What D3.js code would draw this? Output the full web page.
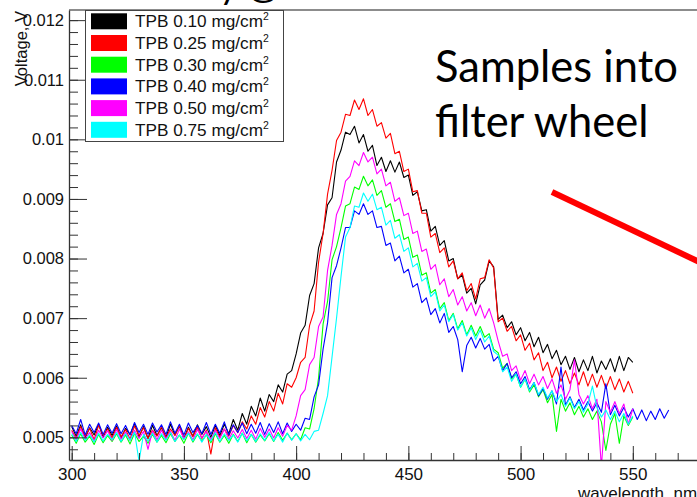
<!DOCTYPE html>
<html>
<head>
<meta charset="utf-8">
<script src="https://cdn.jsdelivr.net/npm/d3@7"></script>
<style>
  body { margin: 0; background: #fff; overflow: hidden; }
  svg { display: block; font-family: "Liberation Sans", Arial, sans-serif; }
</style>
</head>
<body>
<div id="plotviz"></div>
<script>
// readings in mV, one every 2 nm starting at 300 nm
const tpb010 = [
  5.18, 5.02, 5.21, 4.99, 5.16, 5.04, 5.22, 5.00, 5.17, 5.03,
  5.19, 4.99, 5.15, 5.05, 5.23, 5.01, 5.18, 4.98, 5.20, 5.03,
  5.16, 5.00, 5.22, 5.04, 5.19, 4.98, 5.17, 5.02, 5.21, 5.05,
  5.18, 5.00, 5.20, 5.03, 5.22, 5.06, 5.30, 5.12, 5.40, 5.22,
  5.52, 5.36, 5.66, 5.44, 5.72, 5.60, 5.88, 5.76, 6.06, 6.12,
  6.40, 6.75, 6.88, 7.38, 7.58, 8.18, 8.42, 8.90, 9.02, 9.62,
  9.82, 10.12, 10.08, 10.22, 9.94, 10.08, 9.80, 9.90, 9.56, 9.70,
  9.46, 9.64, 9.45, 9.62, 9.36, 9.40, 9.06, 9.12, 8.80, 8.82,
  8.46, 8.54, 8.22, 8.30, 7.96, 8.00, 7.66, 7.72, 7.42, 7.50,
  7.24, 7.56, 7.64, 7.96, 7.86, 6.98, 7.05, 6.84, 6.94, 6.72,
  6.84, 6.62, 6.76, 6.52, 6.68, 6.42, 6.56, 6.32, 6.46, 6.22,
  6.36, 6.14, 6.34, 6.10, 6.30, 6.12, 6.36, 6.08, 6.28, 6.14,
  6.32, 6.10, 6.36, 6.12, 6.34, 6.26
];
const tpb025 = [
  5.12, 4.98, 5.18, 5.02, 5.15, 4.96, 5.20, 5.04, 5.14, 4.99,
  5.17, 5.01, 5.13, 4.97, 5.19, 5.03, 5.16, 4.98, 5.12, 5.02,
  5.18, 4.99, 5.14, 5.03, 5.20, 4.97, 5.15, 5.01, 5.17, 4.98,
  5.12, 4.72, 5.16, 5.00, 5.14, 5.02, 5.20, 5.08, 5.26, 5.14,
  5.36, 5.22, 5.50, 5.34, 5.60, 5.44, 5.74, 5.56, 5.90, 5.84,
  6.00, 6.26, 6.34, 6.88, 7.12, 7.94, 8.42, 9.08, 9.48, 9.98,
  10.12, 10.42, 10.40, 10.66, 10.50, 10.68, 10.40, 10.50, 10.22, 10.28,
  10.02, 10.10, 9.76, 9.80, 9.46, 9.50, 9.12, 9.14, 8.76, 8.76,
  8.36, 8.42, 8.10, 8.18, 7.86, 7.96, 7.66, 7.76, 7.46, 7.58,
  7.32, 7.66, 7.68, 7.98, 7.84, 6.94, 7.00, 6.78, 6.86, 6.62,
  6.72, 6.46, 6.58, 6.30, 6.42, 6.12, 6.26, 6.00, 6.18, 5.94,
  6.12, 5.90, 6.08, 5.88, 6.10, 5.86, 6.06, 5.84, 6.04, 5.82,
  6.02, 5.80, 5.98, 5.76, 5.94, 5.74
];
const tpb030 = [
  5.04, 4.90, 5.06, 4.92, 5.02, 4.88, 5.05, 4.91, 5.03, 4.93,
  5.06, 4.92, 5.04, 4.89, 5.07, 4.93, 5.02, 4.90, 5.05, 4.92,
  5.03, 4.91, 5.06, 4.93, 5.04, 4.90, 5.07, 4.92, 5.05, 4.94,
  5.04, 4.91, 5.06, 4.92, 5.03, 4.90, 5.05, 4.93, 5.07, 4.91,
  5.05, 4.92, 5.04, 4.94, 5.06, 4.93, 5.08, 4.95, 5.07, 4.96,
  5.06, 4.96, 5.16, 5.14, 5.48, 6.00, 6.90, 7.28, 7.98, 8.20,
  8.52, 8.88, 8.92, 9.20, 9.16, 9.38, 9.22, 9.32, 9.06, 9.14,
  8.86, 8.92, 8.62, 8.66, 8.32, 8.36, 8.02, 8.06, 7.72, 7.76,
  7.42, 7.48, 7.16, 7.26, 6.96, 7.08, 6.82, 6.96, 6.72, 6.88,
  6.70, 6.86, 6.68, 6.74, 6.48, 6.42, 6.16, 6.24, 5.98, 6.06,
  5.84, 5.98, 5.76, 5.88, 5.68, 5.80, 5.58, 5.72, 5.10, 5.64,
  5.44, 5.58, 5.38, 5.52, 5.34, 5.48, 5.30, 5.44, 5.26, 4.78,
  5.22, 5.40, 4.90, 5.36, 5.20, 5.34
];
const tpb040 = [
  5.20, 5.06, 5.30, 5.04, 5.22, 5.08, 5.24, 5.05, 5.21, 5.07,
  5.23, 5.06, 5.20, 5.04, 5.25, 5.08, 5.22, 5.05, 5.24, 5.09,
  5.21, 5.05, 5.26, 5.07, 5.22, 5.04, 5.24, 5.08, 5.20, 5.06,
  5.25, 5.05, 5.22, 5.07, 5.26, 5.04, 5.21, 5.08, 5.24, 5.06,
  5.22, 5.07, 5.25, 5.05, 5.23, 5.08, 5.26, 5.06, 5.24, 5.10,
  5.22, 5.12, 5.32, 5.30, 5.68, 5.88, 6.48, 6.92, 7.68, 7.88,
  8.18, 8.52, 8.52, 8.80, 8.74, 8.92, 8.74, 8.80, 8.52, 8.54,
  8.22, 8.26, 7.96, 8.04, 7.76, 7.82, 7.52, 7.58, 7.26, 7.34,
  7.06, 7.16, 6.92, 7.08, 6.76, 6.86, 6.64, 6.10, 6.54, 6.68,
  6.50, 6.66, 6.48, 6.56, 6.28, 6.36, 6.12, 6.24, 6.00, 6.10,
  5.90, 6.02, 5.80, 5.92, 5.70, 5.82, 5.64, 5.78, 5.56, 6.18,
  5.54, 5.68, 5.50, 5.64, 5.46, 5.60, 5.44, 5.58, 5.42, 5.90,
  5.38, 5.54, 5.36, 5.50, 5.34, 5.48, 5.30, 5.46, 5.28, 5.44,
  5.30, 5.48, 5.32, 5.46
];
const tpb050 = [
  5.10, 4.96, 5.14, 4.98, 5.08, 4.94, 5.12, 4.99, 5.11, 4.95,
  5.13, 4.97, 5.09, 4.95, 5.12, 4.98, 5.10, 4.80, 5.11, 4.96,
  5.12, 4.97, 5.10, 4.95, 5.14, 4.98, 5.09, 4.96, 5.13, 4.99,
  5.10, 4.96, 5.12, 4.98, 5.14, 4.97, 5.11, 4.99, 5.13, 4.98,
  5.12, 4.97, 5.15, 5.00, 5.14, 4.99, 5.16, 5.02, 5.20, 5.12,
  5.36, 5.70, 5.80, 6.22, 6.34, 6.86, 7.02, 7.80, 8.22, 8.74,
  8.92, 9.30, 9.38, 9.64, 9.56, 9.78, 9.62, 9.70, 9.42, 9.50,
  9.22, 9.28, 8.96, 9.02, 8.72, 8.76, 8.42, 8.46, 8.12, 8.16,
  7.82, 7.90, 7.56, 7.66, 7.36, 7.48, 7.22, 7.36, 7.12, 7.26,
  7.04, 7.22, 7.00, 7.16, 6.92, 6.62, 6.36, 6.40, 6.12, 6.20,
  5.96, 6.12, 5.90, 6.06, 5.88, 6.02, 5.82, 5.98, 5.74, 5.88,
  5.64, 5.80, 6.30, 5.72, 5.56, 5.70, 5.48, 5.64, 4.50, 5.60,
  5.42, 5.60, 5.40, 5.56, 5.22, 5.48
];
const tpb075 = [
  5.06, 4.93, 5.08, 4.95, 5.04, 4.92, 5.07, 4.94, 5.05, 4.96,
  5.08, 4.93, 5.06, 4.95, 5.09, 4.60, 5.05, 4.94, 5.07, 4.92,
  5.06, 4.95, 5.08, 4.93, 5.04, 4.96, 5.07, 4.94, 5.06, 4.92,
  5.05, 4.94, 5.08, 4.93, 5.06, 4.95, 5.04, 4.92, 5.07, 4.94,
  5.05, 4.93, 5.06, 4.95, 5.08, 4.94, 5.05, 4.92, 5.07, 4.95,
  5.06, 4.94, 5.05, 4.96, 5.10, 5.12, 5.40, 5.70, 6.35, 7.00,
  7.70, 8.36, 8.52, 8.88, 8.86, 9.10, 8.96, 9.08, 8.82, 8.86,
  8.56, 8.64, 8.34, 8.40, 8.12, 8.18, 7.86, 7.92, 7.62, 7.68,
  7.36, 7.44, 7.12, 7.22, 6.94, 7.06, 6.80, 6.92, 6.70, 6.84,
  6.64, 6.80, 6.60, 6.70, 6.44, 6.38, 6.10, 6.18, 5.94, 6.06,
  5.84, 5.98, 5.78, 5.92, 5.72, 5.84, 5.66, 5.78, 5.60, 5.72,
  5.52, 5.66, 5.48, 5.60, 5.42, 5.56, 5.86, 5.50, 5.34, 5.46,
  5.30, 5.44, 5.26, 5.40, 5.22, 5.36
];

const seriesValues = [tpb010, tpb025, tpb030, tpb040, tpb050, tpb075];
const legendLabels = ["TPB 0.10 mg/cm", "TPB 0.25 mg/cm", "TPB 0.30 mg/cm",
                      "TPB 0.40 mg/cm", "TPB 0.50 mg/cm", "TPB 0.75 mg/cm"];
const colors = ["#000000", "#ff0000", "#00ff00", "#0000ff", "#ff00ff", "#00ffff"];
const yMajor = [0.005, 0.006, 0.007, 0.008, 0.009, 0.010, 0.011, 0.012];
const xMajor = [300, 350, 400, 450, 500, 550];
const slideText = ["Samples into", "filter wheel"];
const slideTitle = "Thickness study @ UMN with monochromator";

const W = 697, H = 497;
const frame = { left: 69, top: 10, right: 697, bottom: 460 };

const svg = d3.select("#plotviz").append("svg")
  .attr("width", W).attr("height", H);

// slide title, almost entirely cut off by the crop
svg.append("text")
  .attr("x", -14).attr("y", -1)
  .style("font-family", "Lato, 'Open Sans', sans-serif")
  .style("font-size", "36px")
  .text(slideTitle);

const x = d3.scaleLinear().domain([298.8, 578.6]).range([frame.left, frame.right]);
const y = d3.scaleLinear().domain([0.00462, 0.01217]).range([frame.bottom, frame.top]);

svg.append("clipPath").attr("id", "clip")
  .append("rect")
  .attr("x", frame.left).attr("y", frame.top)
  .attr("width", frame.right - frame.left + 20)
  .attr("height", frame.bottom - frame.top);

const line = d3.line()
  .x((d, i) => x(300 + 2 * i))
  .y(d => y(d / 1000));

svg.append("g").attr("clip-path", "url(#clip)")
  .selectAll("path")
  .data(seriesValues)
  .join("path")
  .attr("d", line)
  .style("fill", "none")
  .style("stroke", (d, i) => colors[i])
  .style("stroke-width", 1.1)
  .style("stroke-linejoin", "round");

// frame top
svg.append("line")
  .attr("x1", frame.left).attr("x2", W)
  .attr("y1", frame.top).attr("y2", frame.top)
  .style("stroke", "#666").style("stroke-width", 1.3);

// y axis
const yMinor = d3.range(0.0048, 0.01217, 0.0002);
svg.append("g")
  .attr("transform", `translate(${frame.left},0)`)
  .call(d3.axisLeft(y).tickValues(yMinor).tickSize(-9).tickFormat(""))
  .call(g => g.select(".domain").remove());
svg.append("g")
  .attr("class", "yaxis")
  .attr("transform", `translate(${frame.left},0)`)
  .call(d3.axisLeft(y).tickValues(yMajor).tickSize(-18).tickSizeOuter(0)
        .tickPadding(5).tickFormat(d3.format(".3~f")));

// x axis
const xMinor = d3.range(300, 580, 10);
svg.append("g")
  .attr("transform", `translate(0,${frame.bottom})`)
  .call(d3.axisBottom(x).tickValues(xMinor).tickSize(-7).tickFormat(""))
  .call(g => g.select(".domain").remove());
svg.append("g")
  .attr("class", "xaxis")
  .attr("transform", `translate(0,${frame.bottom})`)
  .call(d3.axisBottom(x).tickValues(xMajor).tickSize(-14).tickSizeOuter(0)
        .tickPadding(8));

svg.selectAll(".tick line").style("stroke", "#333");
svg.selectAll(".domain").style("stroke", "#333").style("stroke-width", 1.3);
svg.selectAll(".yaxis text").style("font-size", "16.5px").style("fill", "#111")
  .style("font-family", "'Liberation Sans', Arial, sans-serif");
svg.selectAll(".xaxis text").style("font-size", "17px").style("fill", "#111")
  .style("font-family", "'Liberation Sans', Arial, sans-serif");

svg.append("text")
  .attr("x", 578).attr("y", 499)
  .style("font-size", "17px").style("fill", "#111")
  .text("wavelength, nm");

svg.append("text")
  .attr("transform", "translate(27,11) rotate(-90)")
  .attr("text-anchor", "end")
  .style("font-size", "16.5px").style("fill", "#111")
  .text("Voltage, V");

// legend
const legend = svg.append("g");
legend.append("rect")
  .attr("x", 85.5).attr("y", 10.5).attr("width", 198).attr("height", 131)
  .style("fill", "#fff").style("stroke", "#444").style("stroke-width", 1);
const rows = legend.selectAll(".row")
  .data(legendLabels)
  .join("g")
  .attr("class", "row")
  .attr("transform", (d, i) => `translate(0,${21.3 + 21.7 * i})`);
rows.append("rect")
  .attr("x", 91).attr("y", -8).attr("width", 36).attr("height", 16)
  .style("fill", (d, i) => colors[i]);
const lt = rows.append("text")
  .attr("x", 135).attr("y", 6)
  .style("font-size", "17.2px").style("fill", "#111");
lt.append("tspan").text(d => d);
lt.append("tspan").attr("dy", -7).style("font-size", "10.5px").text("2");

// slide overlay
svg.selectAll(".slide")
  .data(slideText)
  .join("text")
  .attr("class", "slide")
  .attr("x", 435).attr("y", (d, i) => 82 + 55 * i)
  .style("font-family", "Lato, 'Open Sans', sans-serif")
  .style("font-size", "43.5px")
  .style("fill", "#000")
  .text(d => d);

svg.append("line")
  .attr("x1", 552).attr("y1", 192).attr("x2", 712).attr("y2", 268)
  .style("stroke", "#ff0000").style("stroke-width", 6);
</script>
</body>
</html>
